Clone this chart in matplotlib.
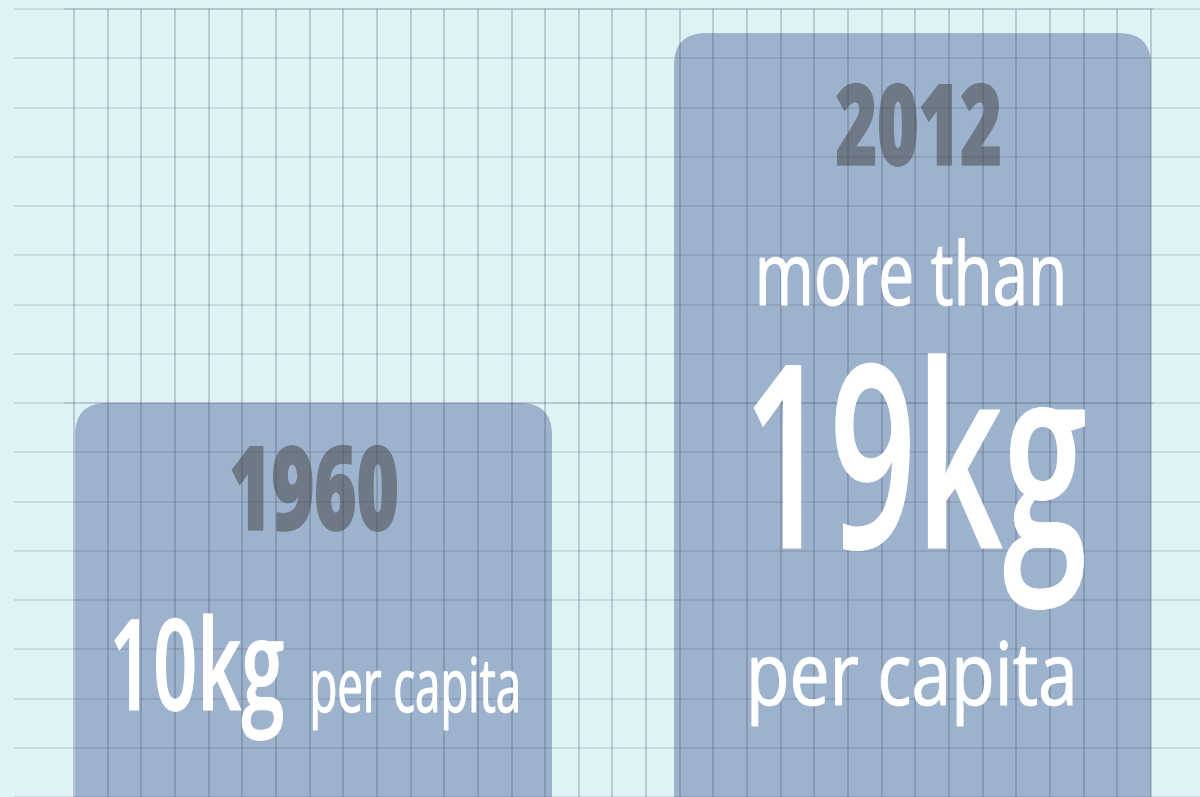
import numpy as np
import matplotlib
matplotlib.use("Agg")
import matplotlib.pyplot as plt
from matplotlib.patches import FancyBboxPatch
from matplotlib import patheffects as pe
from matplotlib.transforms import Affine2D

# ---------------- data ----------------
years = ["1960", "2012"]
per_capita_kg = [10, 19]
value_labels = ["10kg", "19kg"]
lead_in = ["", "more than"]
unit_label = "per capita"

# ---------------- style ----------------
W, H, DPI = 1200, 797, 100
BG = "#dff2f6"
BAR = "#9db2cd"
YEAR_C = "#6f7986"
LINE_C = "#3a4654"
FONT = ["Open Sans", "DejaVu Sans"]


class Squeeze(pe.AbstractPathEffect):
    """Draw text glyphs narrowed horizontally to a given ink width (px)."""

    def __init__(self, width_px, stroke=0.0, anchor="center"):
        super().__init__()
        self.width_px = width_px
        self.stroke = stroke
        self.anchor = anchor

    def draw_path(self, renderer, gc, tpath, affine, rgbFace=None):
        bb = tpath.get_extents(affine)
        dpi = renderer.points_to_pixels(72.0)
        target = self.width_px * dpi / DPI
        s = target / bb.width if bb.width > 0 else 1.0
        if self.anchor == "left":
            cx = bb.x0
        elif self.anchor == "right":
            cx = bb.x1
        else:
            cx = 0.5 * (bb.x0 + bb.x1)
        t = affine + Affine2D().translate(-cx, 0).scale(s, 1).translate(cx, 0)
        gc0 = renderer.new_gc()
        gc0.copy_properties(gc)
        gc0.set_linewidth(self.stroke)
        renderer.draw_path(gc0, tpath, t, rgbFace)
        gc0.restore()


fig = plt.figure(figsize=(W / DPI, H / DPI), dpi=DPI)
fig.patch.set_facecolor(BG)

# ---- bar axes (value scale in kg) ----
ax = fig.add_axes([0, 0, 1, 1], zorder=0)
ax.set_facecolor(BG)
px_per_x = 599.0           # distance between bar centres
x_left_px = 313.5          # centre of first bar
ax.set_xlim(-x_left_px / px_per_x, (W - x_left_px) / px_per_x)
px_per_kg = 41.1
y_bottom = 17.0 / px_per_kg
ax.set_ylim(y_bottom, y_bottom + H / px_per_kg)
ax.axis("off")

bar_w = 477.0 / px_per_x
bars = ax.bar(np.arange(len(years)), per_capita_kg, width=bar_w, color=BAR)
radius_px = 32.0
r = radius_px / px_per_x
aspect = px_per_x / px_per_kg
for b in bars:
    x0, w, h = b.get_x(), b.get_width(), b.get_height()
    b.remove()
    ax.add_patch(FancyBboxPatch((x0, -3), w, h + 3,
                                boxstyle=f"round,pad=0,rounding_size={r}",
                                mutation_aspect=aspect, fc=BAR, ec="none",
                                zorder=1))


def fx(px):
    return px / W


def fy(py):
    return 1 - py / H


# year labels (under the grid)
year_pos = [(314, 530, 84, 164), (919, 165, 81, 162)]
for lab, (cx, by, fs, wd) in zip(years, year_pos):
    ax.text(fx(cx), fy(by), lab, transform=fig.transFigure, ha="center",
            va="baseline", fontsize=fs, fontweight="heavy", family=FONT,
            color=YEAR_C, zorder=2,
            path_effects=[Squeeze(wd, stroke=1.0)])

# ---- grid axes ----
gax = fig.add_axes([0, 0, 1, 1], zorder=1)
cell_w, cell_h = 33.656, 49.25
gx0, gy0 = 74.0, 9.0
gax.set_xlim(-gx0 / cell_w, (W - gx0) / cell_w)
gax.set_ylim((H - gy0) / cell_h, -gy0 / cell_h)
gax.axis("off")
gax.patch.set_visible(False)
n_cols, n_rows = 33, 17
gax.vlines(np.arange(n_cols), 0, n_rows, colors=LINE_C, alpha=0.30, lw=1.1)
gax.hlines(np.arange(n_rows), (14 - gx0) / cell_w, (W - gx0) / cell_w + 1,
           colors=LINE_C, alpha=0.15, lw=1.3)
gax.hlines([0, 8], -0.3, n_cols - 1 + 0.1, colors=LINE_C, alpha=0.14, lw=1.3)

# ---- white labels ----
# (text, anchor x px, baseline y px, size pt, ink width px, weight, align)
white = [
    (value_labels[0], 285, 710, 91, 168, "semibold", "right"),
    (unit_label, 307, 712, 54, 204, "normal", "left"),
    (lead_in[1], 911, 305, 63, 302, "normal", "center"),
    (value_labels[1], 912, 548, 184, 330, "semibold", "center"),
    (unit_label, 912, 705, 63, 320, "normal", "center"),
]
for lab, cx, by, fs, wd, fw, al in white:
    fig.text(fx(cx), fy(by), lab, ha=al, va="baseline", fontsize=fs,
             fontweight=fw, family=FONT, color="white", zorder=5,
             path_effects=[Squeeze(wd, stroke=0.8, anchor=al)])

fig.savefig("out.png", dpi=DPI, facecolor=BG)
